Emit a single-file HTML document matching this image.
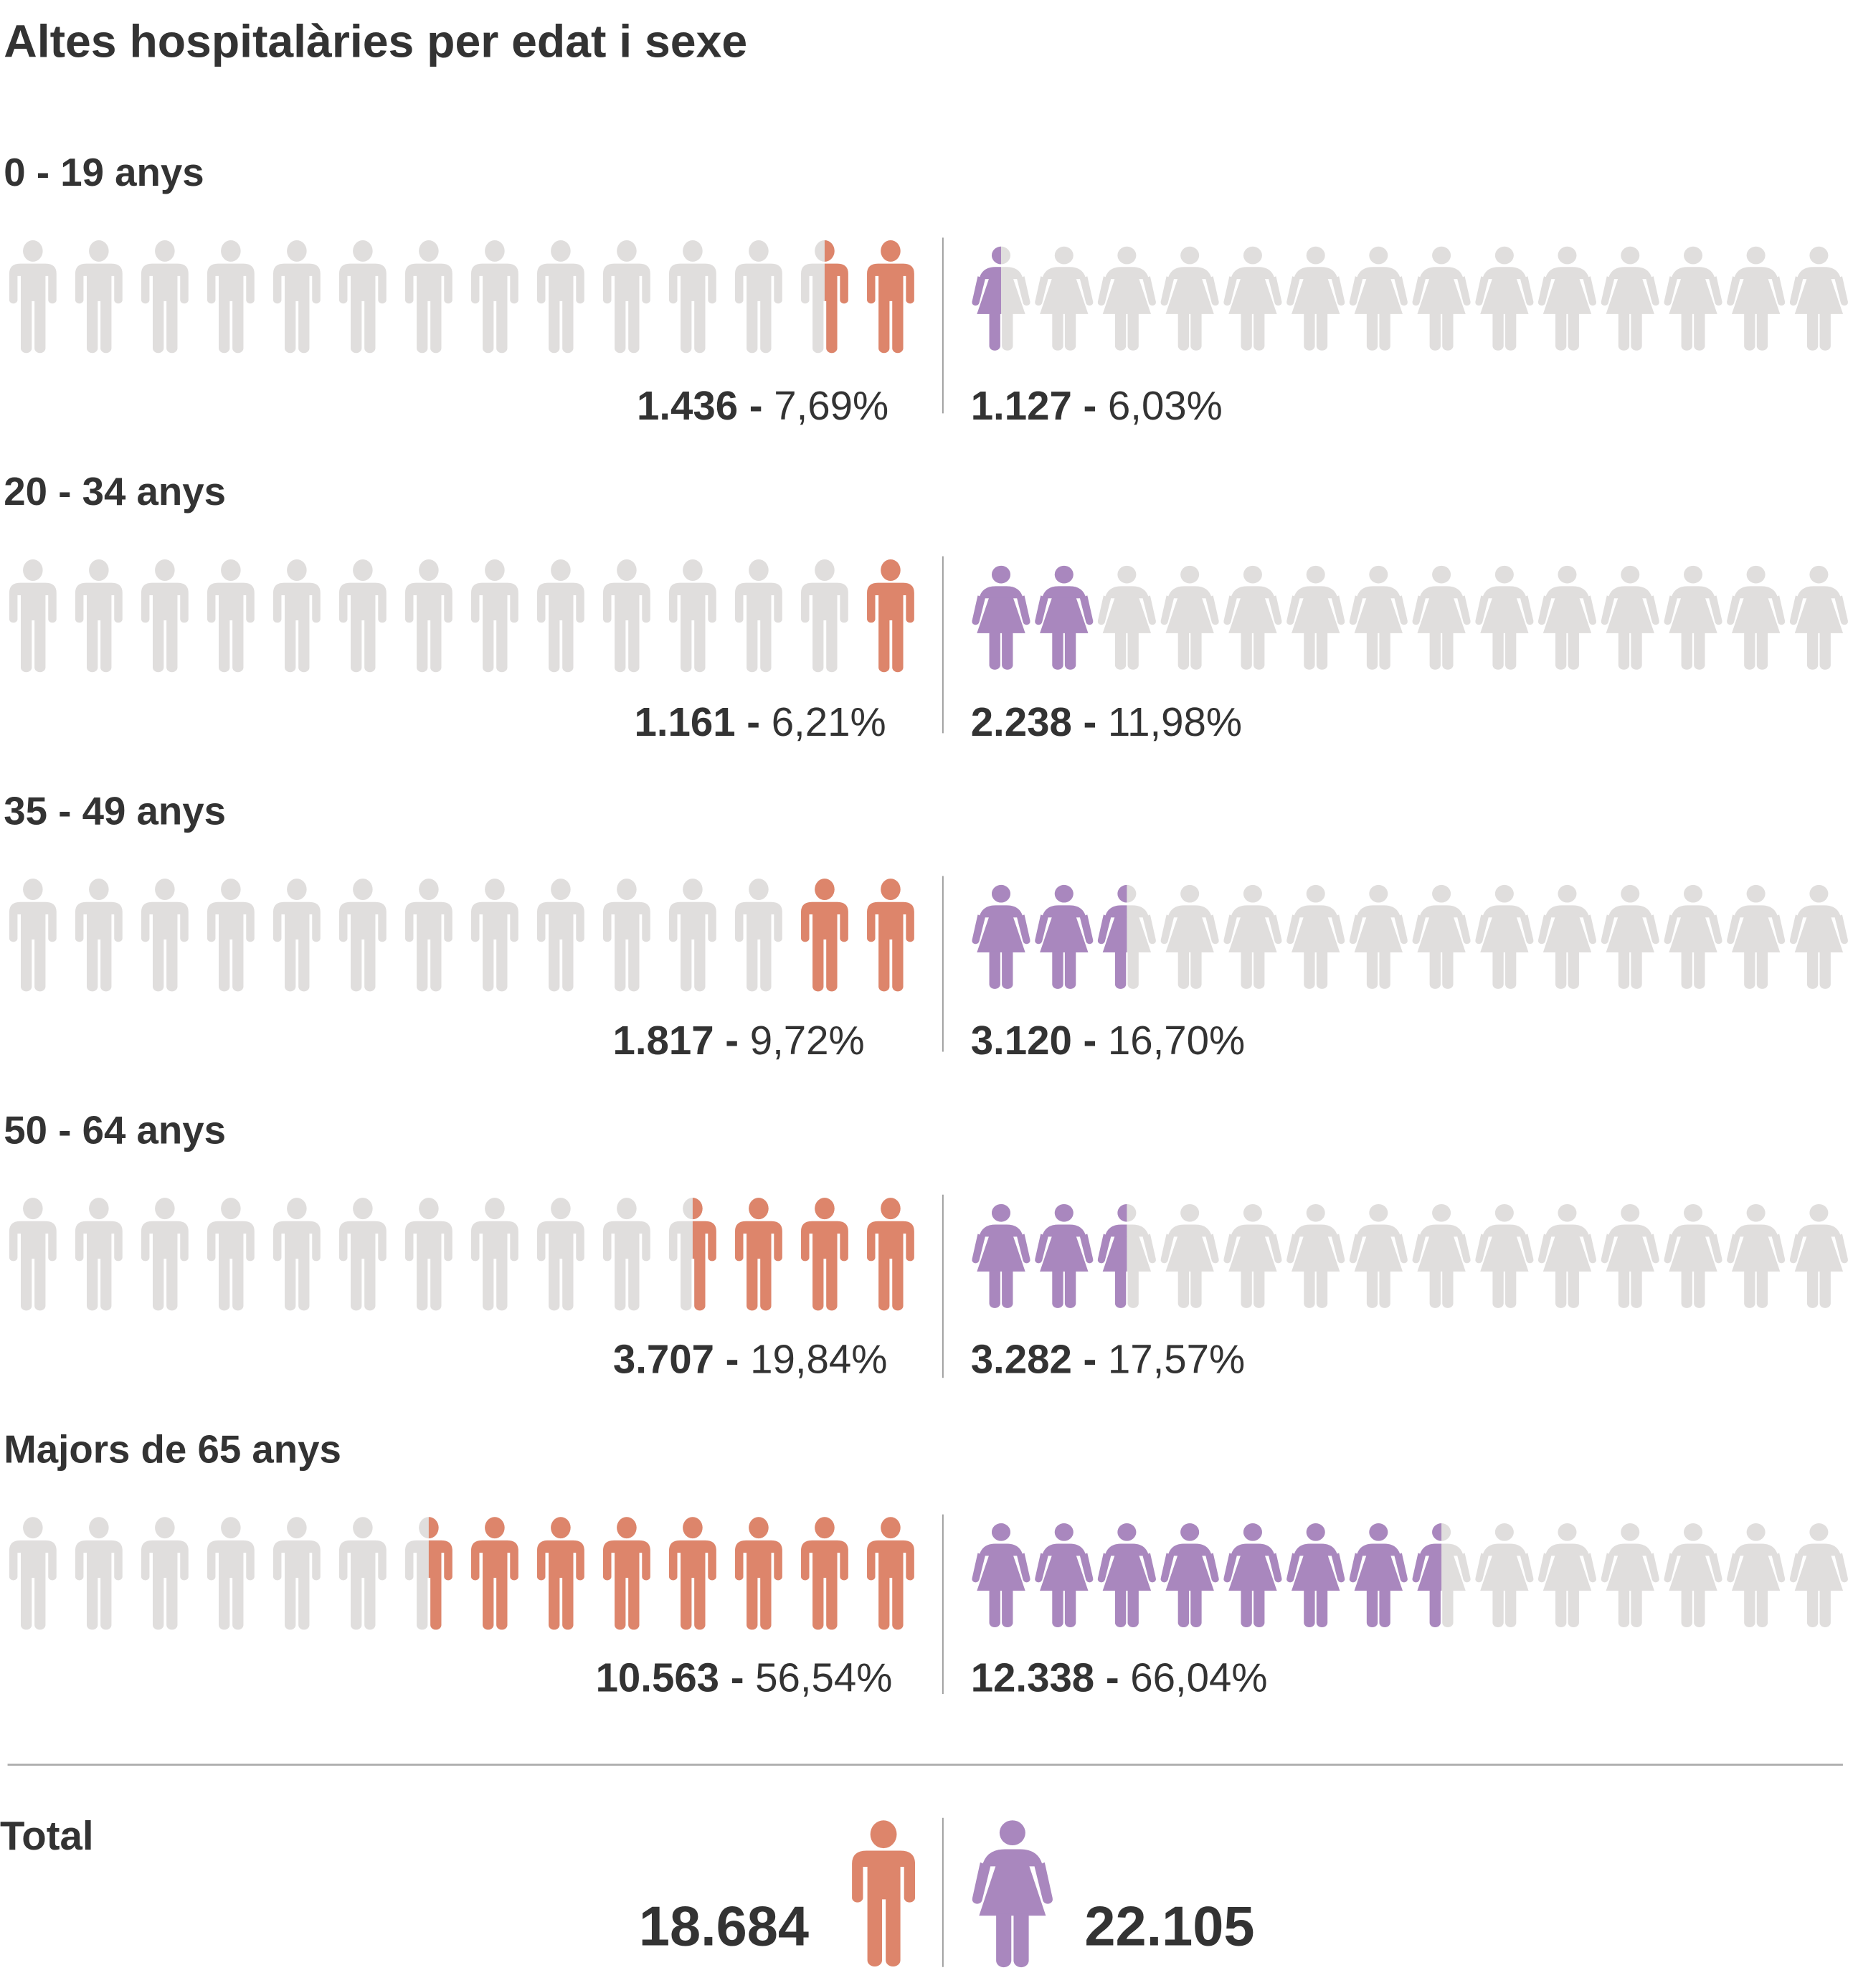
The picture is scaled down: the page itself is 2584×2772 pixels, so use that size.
<!DOCTYPE html>
<html><head><meta charset="utf-8"><style>
html,body{margin:0;padding:0;background:#fff;}
svg{display:block;}
text{font-family:"Liberation Sans",sans-serif;fill:#333;}
</style></head><body>
<svg width="2584" height="2772" viewBox="0 0 1466 1572.6" xmlns="http://www.w3.org/2000/svg">
<defs>
<g id="mb">
<ellipse cx="0" cy="45" rx="36" ry="45"/>
<path d="M-86,140 Q-86,98 -46,98 L46,98 Q86,98 86,140 L86,250 A15,15 0 0 1 56,250 L56,150 L46,150 L46,452 A20,20 0 0 1 6,452 L6,255 L-4,255 L-4,452 A20,20 0 0 1 -44,452 L-44,150 L-56,150 L-56,250 A15,15 0 0 1 -86,250 Z"/>
</g>
<g id="wb">
<ellipse cx="0" cy="38" rx="34" ry="38"/>
<path d="M-80,140 Q-70,88 -20,88 L20,88 Q70,88 80,140 Z"/>
<path d="M-44,138 L44,138 L88,290 L-88,290 Z"/>
<path d="M-85,128 L-58,140 L-80,243 L-106,238 Z"/>
<circle cx="-93" cy="241" r="13"/>
<path d="M85,128 L58,140 L80,243 L106,238 Z"/>
<circle cx="93" cy="241" r="13"/>
<path d="M-43,285 L-3,285 L-3,427 A20,20 0 0 1 -43,427 Z"/>
<path d="M3,285 L43,285 L43,427 A20,20 0 0 1 3,427 Z"/>
</g>
<clipPath id="rh" clipPathUnits="userSpaceOnUse"><rect x="0" y="-20" width="300" height="600"/></clipPath>
<clipPath id="lh" clipPathUnits="userSpaceOnUse"><rect x="-300" y="-20" width="300" height="600"/></clipPath>
</defs>

<text x="3" y="45" font-size="36.5" font-weight="bold">Altes hospitalàries per edat i sexe</text>

<g id="row1">
<g fill="#e0dedd">
<use href="#mb" transform="translate(26,190) scale(.217,.189)"/>
<use href="#mb" transform="translate(78.2,190) scale(.217,.189)"/>
<use href="#mb" transform="translate(130.4,190) scale(.217,.189)"/>
<use href="#mb" transform="translate(182.6,190) scale(.217,.189)"/>
<use href="#mb" transform="translate(234.8,190) scale(.217,.189)"/>
<use href="#mb" transform="translate(287,190) scale(.217,.189)"/>
<use href="#mb" transform="translate(339.2,190) scale(.217,.189)"/>
<use href="#mb" transform="translate(391.4,190) scale(.217,.189)"/>
<use href="#mb" transform="translate(443.6,190) scale(.217,.189)"/>
<use href="#mb" transform="translate(495.8,190) scale(.217,.189)"/>
<use href="#mb" transform="translate(548,190) scale(.217,.189)"/>
<use href="#mb" transform="translate(600.2,190) scale(.217,.189)"/>
<use href="#mb" transform="translate(652.4,190) scale(.217,.189)"/>
<use href="#wb" transform="translate(792,195) scale(.217,.184)"/>
<use href="#wb" transform="translate(841.8,195) scale(.217,.184)"/>
<use href="#wb" transform="translate(891.5,195) scale(.217,.184)"/>
<use href="#wb" transform="translate(941.3,195) scale(.217,.184)"/>
<use href="#wb" transform="translate(991.1,195) scale(.217,.184)"/>
<use href="#wb" transform="translate(1040.9,195) scale(.217,.184)"/>
<use href="#wb" transform="translate(1090.6,195) scale(.217,.184)"/>
<use href="#wb" transform="translate(1140.4,195) scale(.217,.184)"/>
<use href="#wb" transform="translate(1190.2,195) scale(.217,.184)"/>
<use href="#wb" transform="translate(1239.9,195) scale(.217,.184)"/>
<use href="#wb" transform="translate(1289.7,195) scale(.217,.184)"/>
<use href="#wb" transform="translate(1339.5,195) scale(.217,.184)"/>
<use href="#wb" transform="translate(1389.2,195) scale(.217,.184)"/>
<use href="#wb" transform="translate(1439,195) scale(.217,.184)"/>
</g>
</g>
<use href="#row1" y="252.5"/>
<use href="#row1" y="505"/>
<use href="#row1" y="757.5"/>
<use href="#row1" y="1010"/>

<g font-size="31" font-weight="bold">
<text x="3" y="147">0 - 19 anys</text>
<text x="3" y="399.5">20 - 34 anys</text>
<text x="3" y="652">35 - 49 anys</text>
<text x="3" y="904.5">50 - 64 anys</text>
<text x="3" y="1157">Majors de 65 anys</text>
</g>

<g fill="#dd856b">
<use href="#mb" transform="translate(652.4,190) scale(.217,.189)" clip-path="url(#rh)"/>
<use href="#mb" transform="translate(704.6,190) scale(.217,.189)"/>
<use href="#mb" transform="translate(704.6,442.5) scale(.217,.189)"/>
<use href="#mb" transform="translate(652.4,695) scale(.217,.189)"/>
<use href="#mb" transform="translate(704.6,695) scale(.217,.189)"/>
<use href="#mb" transform="translate(548,947.5) scale(.217,.189)" clip-path="url(#rh)"/>
<use href="#mb" transform="translate(600.2,947.5) scale(.217,.189)"/>
<use href="#mb" transform="translate(652.4,947.5) scale(.217,.189)"/>
<use href="#mb" transform="translate(704.6,947.5) scale(.217,.189)"/>
<use href="#mb" transform="translate(339.2,1200) scale(.217,.189)" clip-path="url(#rh)"/>
<use href="#mb" transform="translate(391.4,1200) scale(.217,.189)"/>
<use href="#mb" transform="translate(443.6,1200) scale(.217,.189)"/>
<use href="#mb" transform="translate(495.8,1200) scale(.217,.189)"/>
<use href="#mb" transform="translate(548,1200) scale(.217,.189)"/>
<use href="#mb" transform="translate(600.2,1200) scale(.217,.189)"/>
<use href="#mb" transform="translate(652.4,1200) scale(.217,.189)"/>
<use href="#mb" transform="translate(704.6,1200) scale(.217,.189)"/>
</g>
<g fill="#a987be">
<use href="#wb" transform="translate(792,195) scale(.217,.184)" clip-path="url(#lh)"/>
<use href="#wb" transform="translate(792,447.5) scale(.217,.184)"/>
<use href="#wb" transform="translate(841.8,447.5) scale(.217,.184)"/>
<use href="#wb" transform="translate(792,700) scale(.217,.184)"/>
<use href="#wb" transform="translate(841.8,700) scale(.217,.184)"/>
<use href="#wb" transform="translate(891.5,700) scale(.217,.184)" clip-path="url(#lh)"/>
<use href="#wb" transform="translate(792,952.5) scale(.217,.184)"/>
<use href="#wb" transform="translate(841.8,952.5) scale(.217,.184)"/>
<use href="#wb" transform="translate(891.5,952.5) scale(.217,.184)" clip-path="url(#lh)"/>
<use href="#wb" transform="translate(792,1205) scale(.217,.184)"/>
<use href="#wb" transform="translate(841.8,1205) scale(.217,.184)"/>
<use href="#wb" transform="translate(891.5,1205) scale(.217,.184)"/>
<use href="#wb" transform="translate(941.3,1205) scale(.217,.184)"/>
<use href="#wb" transform="translate(991.1,1205) scale(.217,.184)"/>
<use href="#wb" transform="translate(1040.9,1205) scale(.217,.184)"/>
<use href="#wb" transform="translate(1090.6,1205) scale(.217,.184)"/>
<use href="#wb" transform="translate(1140.4,1205) scale(.217,.184)" clip-path="url(#lh)"/>
</g>

<g stroke="#999" stroke-width="1">
<line x1="746" y1="188" x2="746" y2="327"/>
<line x1="746" y1="440" x2="746" y2="580"/>
<line x1="746" y1="693" x2="746" y2="832"/>
<line x1="746" y1="945" x2="746" y2="1090"/>
<line x1="746" y1="1198" x2="746" y2="1340"/>
<line x1="746" y1="1438" x2="746" y2="1556"/>
</g>

<g font-size="32">
<text x="703" y="332" text-anchor="end"><tspan font-weight="bold">1.436 -</tspan> 7,69%</text>
<text x="768" y="332"><tspan font-weight="bold">1.127 -</tspan> 6,03%</text>
<text x="701" y="582" text-anchor="end"><tspan font-weight="bold">1.161 -</tspan> 6,21%</text>
<text x="768" y="582"><tspan font-weight="bold">2.238 -</tspan> 11,98%</text>
<text x="684" y="834" text-anchor="end"><tspan font-weight="bold">1.817 -</tspan> 9,72%</text>
<text x="768" y="834"><tspan font-weight="bold">3.120 -</tspan> 16,70%</text>
<text x="702" y="1086" text-anchor="end"><tspan font-weight="bold">3.707 -</tspan> 19,84%</text>
<text x="768" y="1086"><tspan font-weight="bold">3.282 -</tspan> 17,57%</text>
<text x="706" y="1338" text-anchor="end"><tspan font-weight="bold">10.563 -</tspan> 56,54%</text>
<text x="768" y="1338"><tspan font-weight="bold">12.338 -</tspan> 66,04%</text>
</g>

<line x1="6" y1="1396" x2="1458" y2="1396" stroke="#aaa" stroke-width="1.5"/>
<text x="0" y="1463" font-size="32" font-weight="bold">Total</text>
<text x="640" y="1539" font-size="44" font-weight="bold" text-anchor="end">18.684</text>
<text x="858" y="1539" font-size="44" font-weight="bold">22.105</text>
<use href="#mb" fill="#dd856b" transform="translate(699,1440) scale(.29,.245)"/>
<use href="#wb" fill="#a987be" transform="translate(801,1440) scale(.30,.26)"/>
</svg>
</body></html>
